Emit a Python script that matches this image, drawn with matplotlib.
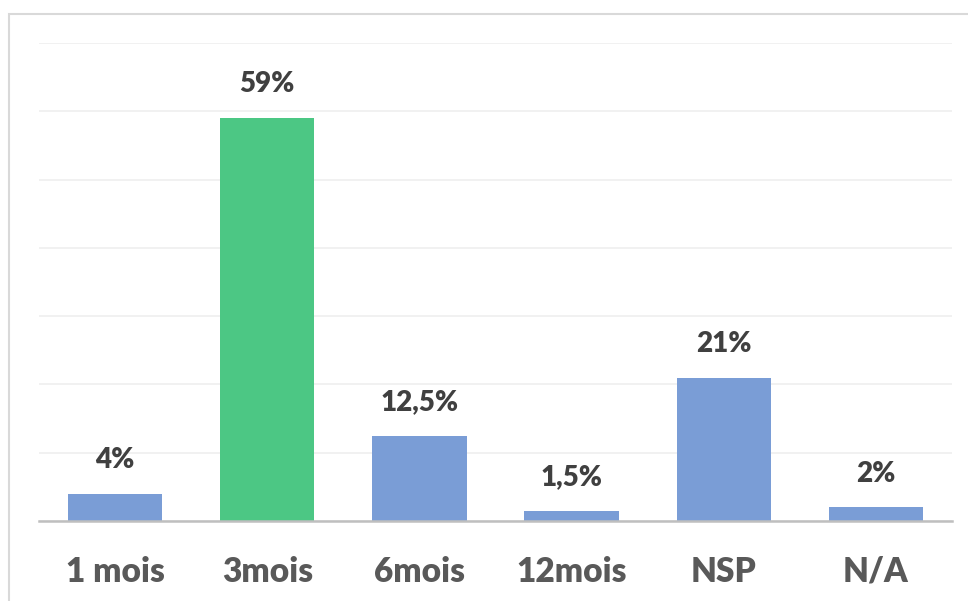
import matplotlib.pyplot as plt
from matplotlib.patches import Rectangle

# Données
categories = ["1 mois", "3mois", "6mois", "12mois", "NSP", "N/A"]
valeurs = [4, 59, 12.5, 1.5, 21, 2]
etiquettes = ["4%", "59%", "12,5%", "1,5%", "21%", "2%"]
couleurs = ["#7A9DD6", "#4CC784", "#7A9DD6", "#7A9DD6", "#7A9DD6", "#7A9DD6"]

plt.rcParams['font.family'] = ['Lato', 'DejaVu Sans']

fig = plt.figure(figsize=(9.68, 6.01), dpi=100)
ax = fig.add_axes([0.0403, 0.1331, 0.9432, 0.7954])

# cadre gris autour du graphique (coupé à droite et en bas)
fig.patches.append(Rectangle((9 / 968, -0.05), 1.0, (601 - 14) / 601 + 0.05,
                             transform=fig.transFigure, fill=False,
                             edgecolor="#D9D9D9", linewidth=1.5))

x = range(len(categories))
ax.bar(x, valeurs, width=0.62, color=couleurs, zorder=2)

for i, (v, t) in enumerate(zip(valeurs, etiquettes)):
    ax.annotate(t, (i, v), xytext=(0, 15), textcoords="offset points",
                ha="center", va="bottom", fontsize=20, fontweight="heavy",
                color="#404040")

ax.set_xlim(-0.5, 5.5)
ax.set_ylim(0, 70)
ax.set_yticks(range(0, 71, 10))
ax.yaxis.grid(True, color="#EFEFEF", linewidth=1.2, zorder=0)
ax.tick_params(axis="y", left=False, labelleft=False)
ax.set_xticks(list(x))
ax.set_xticklabels(categories, fontsize=24, fontweight="heavy", color="#595959")
ax.tick_params(axis="x", length=0, pad=25)
for s in ["top", "right", "left"]:
    ax.spines[s].set_visible(False)
ax.spines["bottom"].set_color("#BFBFBF")
ax.spines["bottom"].set_linewidth(1.8)

plt.savefig("out.png", dpi=100)
